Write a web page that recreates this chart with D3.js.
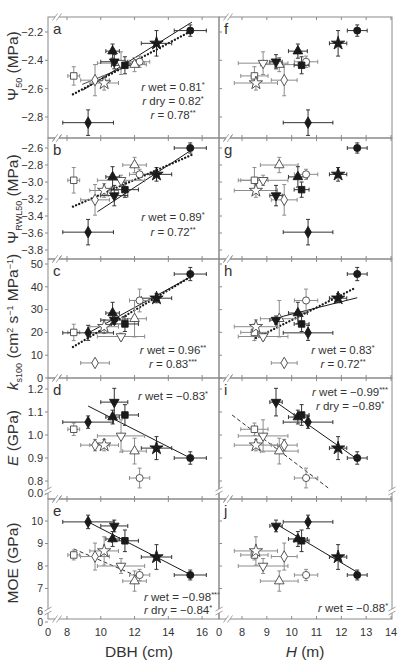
<!DOCTYPE html>
<html><head><meta charset="utf-8">
<script src="https://cdn.jsdelivr.net/npm/d3@7"></script>
<style>body{margin:0;background:#fff} svg{display:block;font-family:"Liberation Sans",Arial,sans-serif}</style>
</head><body><svg id="c" width="400" height="664"></svg>
<script>
// ---------- DATA ----------
// 12 groups: 6 wet-season (filled) and 6 dry-season (open)
const groupSymbol = ["circle","diamond","triangle","triangleDown","square","star","circle","square","triangle","triangleDown","diamond","star"];
const groupFilled = [true,true,true,true,true,true,false,false,false,false,false,false];
const dbh      = [15.3, 9.25, 10.7, 10.8, 11.43, 13.3, 12.3, 8.4, 12.0, 11.2, 9.66, 10.2];
const dbhErr   = [0.95, 1.5, 0.4, 0.8, 0.8, 0.9, 0.6, 0.35, 0.7, 1.4, 0.85, 0.85];
const heightM  = [12.64, 10.66, 10.25, 9.37, 10.4, 11.87, 10.58, 8.5, 9.5, 8.85, 9.7, 8.56];
const heightErr= [0.4, 1.0, 0.38, 0.25, 0.3, 0.35, 0.47, 0.55, 0.76, 1.0, 0.52, 0.87];
const psi50    = [-2.19, -2.84, -2.335, -2.41, -2.435, -2.28, -2.41, -2.51, -2.43, -2.42, -2.54, -2.56];
const psi50Err = [0.04, 0.09, 0.05, 0.05, 0.06, 0.09, 0.04, 0.065, 0.05, 0.08, 0.11, 0.05];
const psiRWL   = [-2.6, -3.59, -2.94, -3.16, -3.09, -2.91, -2.91, -2.98, -2.80, -2.98, -3.21, -3.1];
const psiRWLErr= [0.06, 0.15, 0.12, 0.12, 0.09, 0.08, 0.06, 0.15, 0.09, 0.06, 0.18, 0.08];
const ks100    = [45.6, 19.8, 28.5, 25.4, 23.7, 35, 34, 20, 26, 18.2, 6.6, 22.5];
const ks100Err = [2.9, 3.3, 4.7, 1.8, 3.3, 2, 5, 3.6, 8, 1.5, 1, 3];
const youngE   = [0.90, 1.056, 1.078, 1.143, 1.087, 0.943, 0.813, 1.025, 0.93, 0.996, 0.956, 0.956];
const youngEErr= [0.027, 0.027, 0.03, 0.06, 0.045, 0.05, 0.043, 0.027, 0.056, 0.07, 0.025, 0.025];
const moe      = [7.6, 9.96, 9.2, 9.78, 9.12, 8.4, 7.6, 8.49, 7.33, 8.0, 8.42, 8.67];
const moeErr   = [0.22, 0.3, 0.33, 0.26, 0.48, 0.55, 0.25, 0.22, 0.45, 0.33, 0.6, 0.63];

const ticksPsi50  = [-2.2, -2.4, -2.6, -2.8];
const ticksPsiRWL = [-2.6, -2.8, -3.0, -3.2, -3.4, -3.6, -3.8];
const ticksKs     = [0, 10, 20, 30, 40, 50];
const ticksE      = [0.8, 0.9, 1.0, 1.1, 1.2];
const ticksMOE    = [6, 7, 8, 9, 10];
const ticksDBH    = [8, 10, 12, 14, 16];
const ticksH      = [8, 9, 10, 11, 12, 13, 14];

// fitted lines [x1, y1, x2, y2, style]
const linesA = [[8.95,-2.61,15.4,-2.13,"solid"],[8.9,-2.57,12.4,-2.40,"thin"],[8.35,-2.64,15.4,-2.19,"dot"]];
const linesB = [[9.8,-3.35,15.4,-2.62,"solid"],[8.35,-3.29,15.4,-2.68,"dot"]];
const linesC = [[9.25,19.7,15.4,44.7,"solid"],[8.35,13.6,15.3,44.3,"dot"]];
const linesD = [[9.25,1.126,15.3,0.90,"solid"]];
const linesE = [[9.25,9.96,15.3,7.62,"solid"],[8.4,8.76,12.3,7.5,"dash"]];
const linesF = [];
const linesG = [];
const linesH = [[9.37,26.3,12.64,35.2,"solid"],[8.56,17.5,12.56,39.5,"dot"]];
const linesI = [[9.37,1.143,12.64,0.895,"solid"],[7.6,1.087,11.47,0.77,"dash"]];
const linesJ = [[9.4,9.85,12.6,7.75,"solid"]];

// annotations: [label, value, stars]
const notesA = [["wet","0.81","*"],["dry","0.82","*"],["","0.78","**"]];
const notesB = [["wet","0.89","*"],["","0.72","**"]];
const notesC = [["wet","0.96","**"],["","0.83","***"]];
const notesD = [["wet","\u22120.83","*"]];
const notesE = [["wet","\u22120.98","***"],["dry","\u22120.84","*"]];
const notesF = [];
const notesG = [];
const notesH = [["wet","0.83","*"],["","0.72","**"]];
const notesI = [["wet","\u22120.99","***"],["dry","\u22120.89","*"]];
const notesJ = [["wet","\u22120.88","*"]];

// ---------- LAYOUT ----------
const svg = d3.select("#c");
const ink = "#1a1a1a", frame = "#8a8a8a", grey = "#8c8c8c", txt = "#333";
const xL = d3.scaleLinear().domain([8,16]).range([67,202.1]);
const xR = d3.scaleLinear().domain([8,14]).range([242,391]);
const colL = {x0:48, x1:219, sx:xL, xv:dbh, xe:dbhErr, ticks:ticksDBH, brk:57};
const colR = {x0:219, x1:392, sx:xR, xv:heightM, xe:heightErr, ticks:ticksH, brk:228};

const rows = [
  {vals:psi50, err:psi50Err, ticks:ticksPsi50, top:17, bottom:138, d:[-2.2,-2.8], r:[32,117], fmt:d3.format(".1f"), lines:[linesA,linesF], notes:[notesA,notesF], letters:["a","f"]},
  {vals:psiRWL, err:psiRWLErr, ticks:ticksPsiRWL, top:138, bottom:259, d:[-2.6,-3.8], r:[148,250], fmt:d3.format(".1f"), lines:[linesB,linesG], notes:[notesB,notesG], letters:["b","g"]},
  {vals:ks100, err:ks100Err, ticks:ticksKs, top:259, bottom:378, d:[0,50], r:[378,264], fmt:d3.format("d"), lines:[linesC,linesH], notes:[notesC,notesH], letters:["c","h"]},
  {vals:youngE, err:youngEErr, ticks:ticksE, top:378, bottom:499, d:[1.2,0.8], r:[389,481], fmt:d3.format(".1f"), lines:[linesD,linesI], notes:[notesD,notesI], letters:["d","i"], zero:"0.0", zeroY:493},
  {vals:moe, err:moeErr, ticks:ticksMOE, top:499, bottom:619, d:[10,6], r:[521,611], fmt:d3.format("d"), lines:[linesE,linesJ], notes:[notesE,notesJ], letters:["e","j"], zero:"0", zeroY:622}
];
// annotation anchor positions per panel [x, y of first line, anchor, line spacing]
const notePos = [
  [[173,91,"middle",14],null],
  [[173,221,"middle",15],null],
  [[173,354,"middle",14],[343,354,"middle",14]],
  [[173,400,"middle",14],[350,396,"middle",14]],
  [[144,601,"start",13],[318,612,"start",13]]
];

const symType = {circle:d3.symbolCircle, diamond:d3.symbolDiamond, triangle:d3.symbolTriangle, triangleDown:d3.symbolTriangle, square:d3.symbolSquare, star:d3.symbolStar};
const symSize = {circle:40, diamond:38, triangle:40, triangleDown:40, square:42, star:55};

function brkMark(g, x, y, horiz){
  if(horiz){
    g.append("rect").attr("x",x-2).attr("y",y-3).attr("width",4).attr("height",6).attr("fill","#fff");
    [-2,2].forEach(o=>g.append("line").attr("x1",x+o-2.5).attr("y1",y+3.5).attr("x2",x+o+2.5).attr("y2",y-3.5).attr("stroke",frame).attr("stroke-width",0.8));
  } else {
    g.append("rect").attr("x",x-3).attr("y",y-2).attr("width",6).attr("height",4).attr("fill","#fff");
    [-2,2].forEach(o=>g.append("line").attr("x1",x-3.5).attr("y1",y+o+2).attr("x2",x+3.5).attr("y2",y+o-2).attr("stroke",frame).attr("stroke-width",0.8));
  }
}

rows.forEach((row, ri) => {
  const sy = d3.scaleLinear().domain(row.d).range(row.r);
  [colL, colR].forEach((col, ci) => {
    const g = svg.append("g");
    g.append("rect").attr("x",col.x0).attr("y",row.top).attr("width",col.x1-col.x0).attr("height",row.bottom-row.top)
      .attr("fill","none").attr("stroke",frame).attr("stroke-width",1);
    col.ticks.forEach(t => {
      const x = col.sx(t);
      if (x > col.x1 - 1) return;
      g.append("line").attr("x1",x).attr("x2",x).attr("y1",row.top).attr("y2",row.top+3).attr("stroke",frame);
      g.append("line").attr("x1",x).attr("x2",x).attr("y1",row.bottom).attr("y2",row.bottom-3).attr("stroke",frame);
    });
    row.ticks.forEach(t => {
      const y = sy(t);
      if (ci === 0) {
        g.append("line").attr("x1",col.x0-3).attr("x2",col.x0).attr("y1",y).attr("y2",y).attr("stroke",frame);
        g.append("text").attr("x",col.x0-5).attr("y",y).attr("dy","0.35em").attr("text-anchor","end")
          .attr("font-size",row.zero==="0"?10.5:11).attr("fill",txt).text(row.fmt(t).replace("-","\u2212"));
      } else {
        g.append("line").attr("x1",col.x0).attr("x2",col.x0+3).attr("y1",y).attr("y2",y).attr("stroke",frame);
      }
    });
    if (row.zero && ci === 0) {
      g.append("line").attr("x1",col.x0-3).attr("x2",col.x0).attr("y1",row.zeroY).attr("y2",row.zeroY).attr("stroke",frame);
      g.append("text").attr("x",col.x0-5).attr("y",row.zeroY).attr("dy","0.35em").attr("text-anchor","end")
        .attr("font-size",row.zero==="0"?10:11).attr("fill",txt).text(row.zero);
    }
    brkMark(g, col.brk, row.top, true);
    brkMark(g, col.brk, row.bottom, true);
    if (row.zero) { brkMark(g, col.x0, row.bottom-8, false); if (ci===1) brkMark(g, col.x1, row.bottom-8, false); }
    g.append("text").attr("x",col.x0+5).attr("y",row.top+17).attr("font-size",15).attr("fill",txt).text(row.letters[ci]);
    row.lines[ci].forEach(L => {
      const ln = g.append("line").attr("x1",col.sx(L[0])).attr("y1",sy(L[1])).attr("x2",col.sx(L[2])).attr("y2",sy(L[3]))
        .attr("stroke",ink);
      if (L[4]==="solid") ln.attr("stroke-width",1);
      if (L[4]==="thin") ln.attr("stroke-width",0.8);
      if (L[4]==="dot") ln.attr("stroke-width",2.3).attr("stroke-dasharray","0.1 3.3").attr("stroke-linecap","round");
      if (L[4]==="dash") ln.attr("stroke-width",0.9).attr("stroke-dasharray","4 2.5");
    });
    const order = d3.range(12).sort((a,b)=> (groupFilled[a]?1:0)-(groupFilled[b]?1:0));
    order.forEach(i => {
      const cx = col.sx(col.xv[i]), cy = sy(row.vals[i]);
      const ec = groupFilled[i] ? "#333" : grey;
      const xa = col.sx(col.xv[i]-col.xe[i]), xb = col.sx(col.xv[i]+col.xe[i]);
      const ya = sy(row.vals[i]-row.err[i]), yb = sy(row.vals[i]+row.err[i]);
      g.append("line").attr("x1",xa).attr("x2",xb).attr("y1",cy).attr("y2",cy).attr("stroke",ec).attr("stroke-width",1);
      g.append("line").attr("x1",cx).attr("x2",cx).attr("y1",ya).attr("y2",yb).attr("stroke",ec).attr("stroke-width",1);
      [xa,xb].forEach(x=>g.append("line").attr("x1",x).attr("x2",x).attr("y1",cy-2).attr("y2",cy+2).attr("stroke",ec));
      [ya,yb].forEach(y=>g.append("line").attr("x1",cx-2).attr("x2",cx+2).attr("y1",y).attr("y2",y).attr("stroke",ec));
    });
    order.forEach(i => {
      const cx = col.sx(col.xv[i]), cy = sy(row.vals[i]);
      const s = groupSymbol[i];
      g.append("path").attr("d", d3.symbol().type(symType[s]).size(symSize[s])())
        .attr("transform",`translate(${cx},${cy})` + (s==="triangleDown"?" rotate(180)":""))
        .attr("fill", groupFilled[i] ? ink : "#fff").attr("stroke", groupFilled[i] ? ink : "#444").attr("stroke-width",0.9);
    });
    const np = notePos[ri][ci];
    if (np) row.notes[ci].forEach((n, k) => {
      const t = g.append("text").attr("x",np[0]).attr("y",np[1]+k*np[3]).attr("text-anchor",np[2]).attr("font-size",11.5).attr("fill",txt);
      t.append("tspan").attr("font-style","italic").text("r");
      t.append("tspan").text((n[0]?" "+n[0]:"")+" = "+n[1]);
      t.append("tspan").attr("font-size",7.5).attr("dy",-4).text(n[2]);
    });
  });
});

[colL, colR].forEach(col => {
  svg.append("text").attr("x",col.x0).attr("y",636).attr("text-anchor","middle").attr("font-size",11).attr("fill",txt).text("0");
  col.ticks.forEach(t => {
    svg.append("text").attr("x",col.sx(t)).attr("y",636).attr("text-anchor","middle").attr("font-size",11).attr("fill",txt).text(t);
  });
});
svg.append("text").attr("x",139).attr("y",657).attr("text-anchor","middle").attr("font-size",15.5).attr("fill",txt).text("DBH (cm)");
const hx = svg.append("text").attr("x",305).attr("y",657).attr("text-anchor","middle").attr("font-size",15.5).attr("fill",txt);
hx.append("tspan").attr("font-style","italic").text("H");
hx.append("tspan").text(" (m)");

function ytitle(cy, build){
  const t = svg.append("text").attr("transform",`translate(18,${cy}) rotate(-90)`).attr("text-anchor","middle").attr("font-size",15.5).attr("fill",txt);
  build(t);
}
ytitle(66, t=>{ t.append("tspan").text("\u03A8"); t.append("tspan").attr("font-size",9).attr("dy",4).text("50"); t.append("tspan").attr("dy",-4).text(" (MPa)"); });
ytitle(199, t=>{ t.append("tspan").text("\u03A8"); t.append("tspan").attr("font-size",9).attr("dy",4).text("RWL50"); t.append("tspan").attr("dy",-4).text(" (MPa)"); });
ytitle(322, t=>{ t.append("tspan").attr("font-style","italic").text("k"); t.append("tspan").attr("font-size",9).attr("dy",4).text("s100"); t.append("tspan").attr("dy",-4).text(" (cm"); t.append("tspan").attr("font-size",9).attr("dy",-5).text("2"); t.append("tspan").attr("dy",5).text(" s"); t.append("tspan").attr("font-size",9).attr("dy",-5).text("\u22121"); t.append("tspan").attr("dy",5).text(" MPa"); t.append("tspan").attr("font-size",9).attr("dy",-5).text("\u22121"); t.append("tspan").attr("dy",5).text(")"); });
ytitle(438, t=>{ t.append("tspan").attr("font-style","italic").text("E"); t.append("tspan").text(" (GPa)"); });
ytitle(563, t=>{ t.append("tspan").text("MOE (GPa)"); });
</script></body></html>
